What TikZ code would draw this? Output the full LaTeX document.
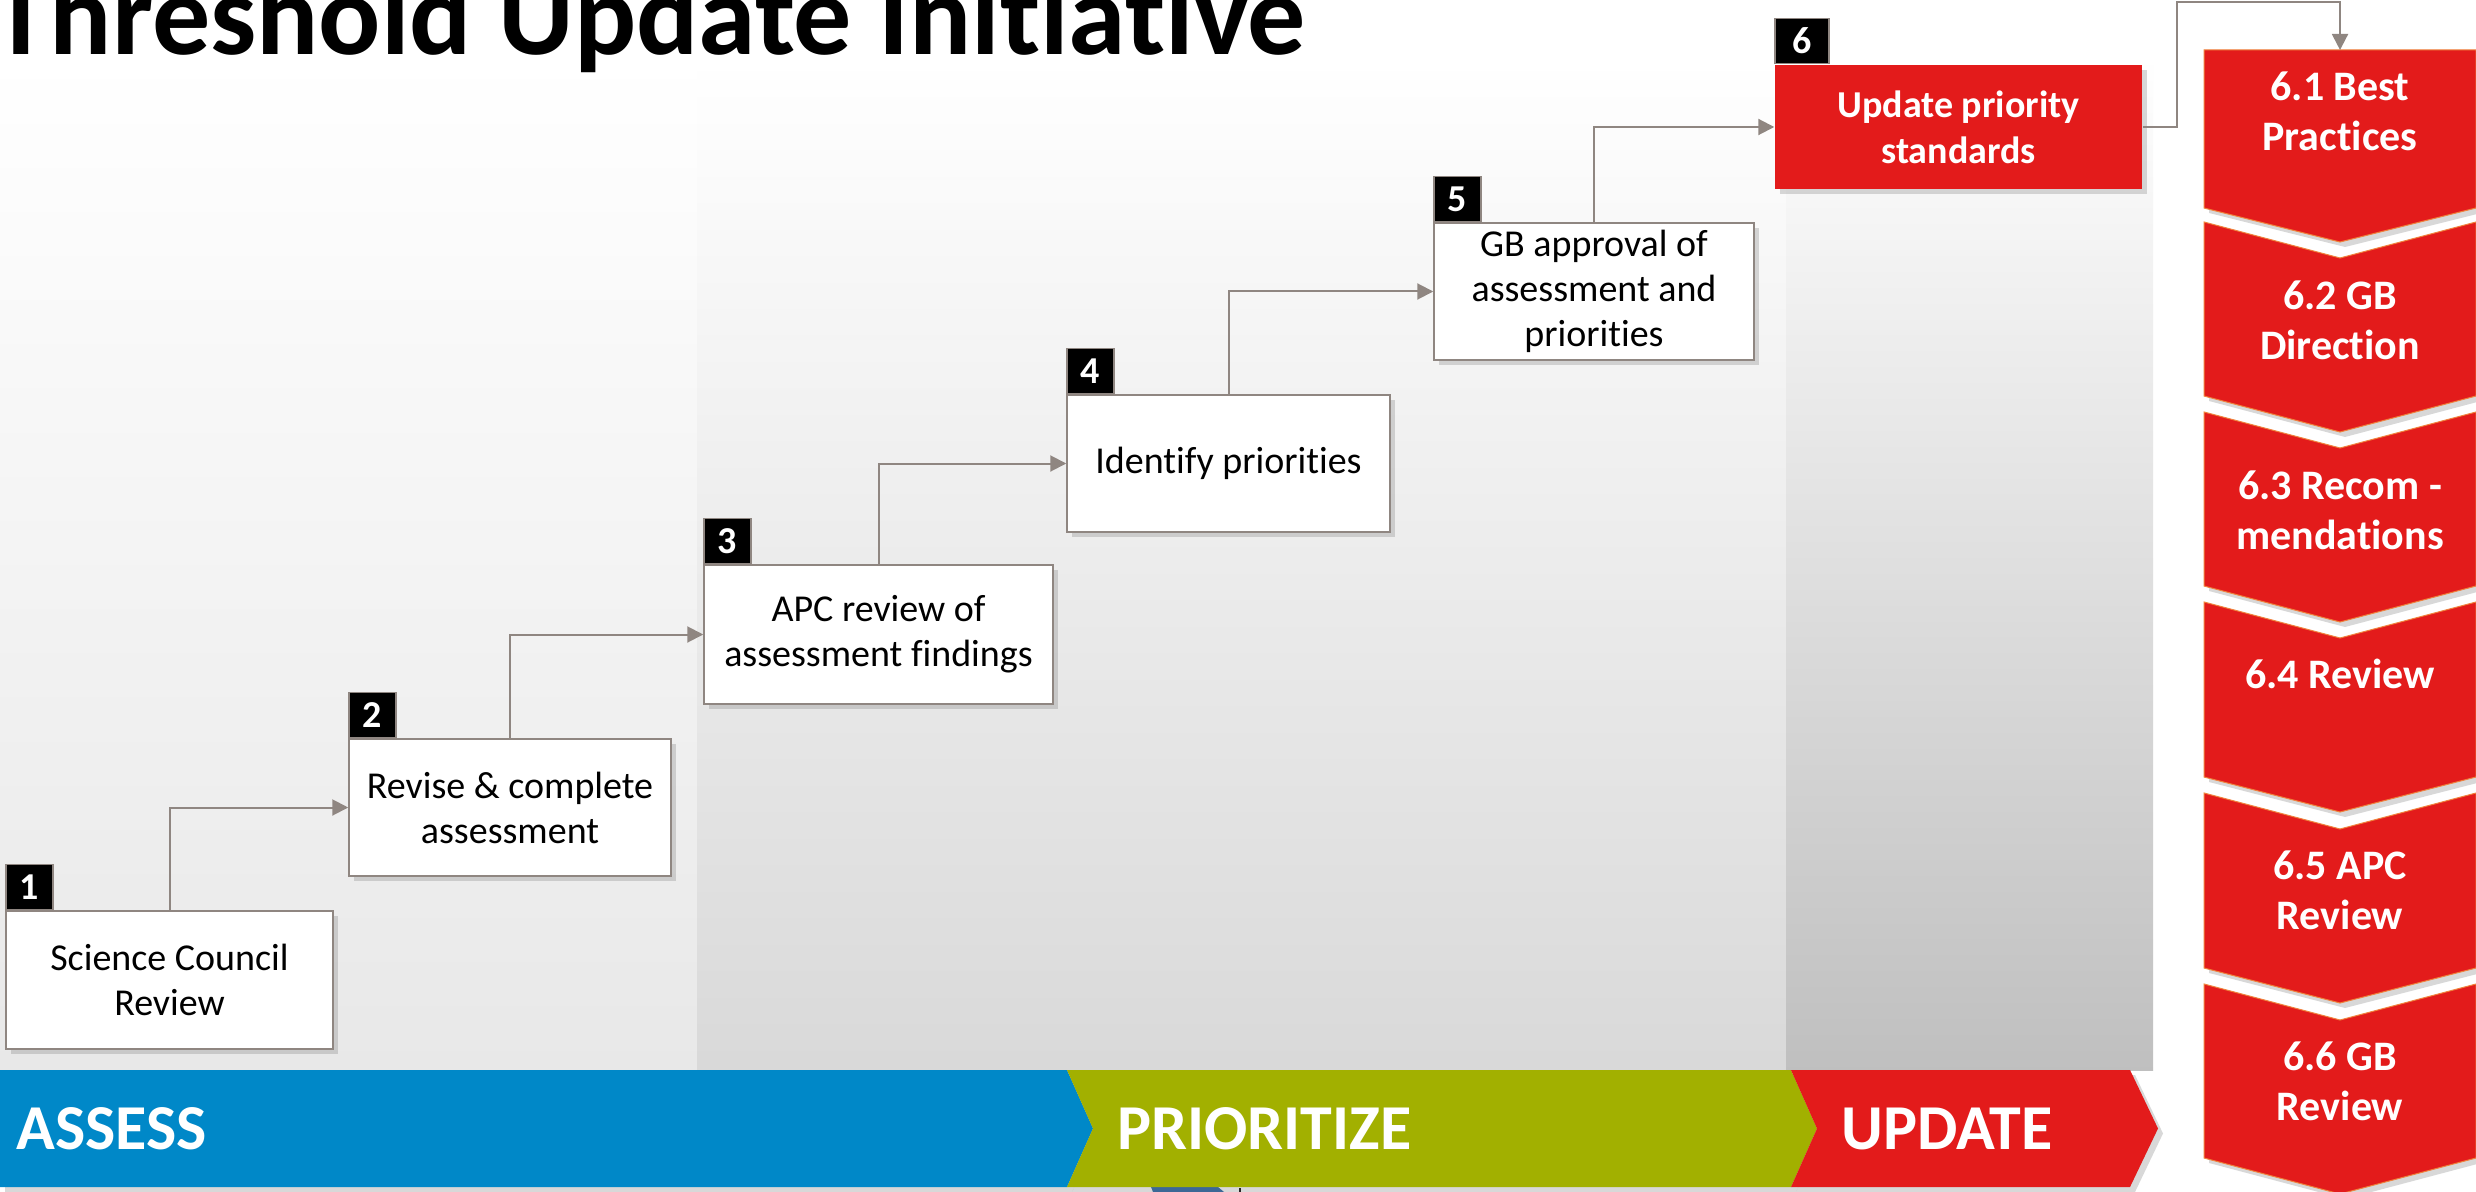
\documentclass[tikz,border=0pt]{standalone}
\usepackage{fontspec}
\setmainfont{Carlito}[Ligatures=NoCommon]
\usetikzlibrary{arrows.meta,shadows,positioning}
\definecolor{assessblue}{RGB}{0,136,200}
\definecolor{prioritygreen}{RGB}{162,176,0}
\definecolor{updatered}{RGB}{227,27,27}
\definecolor{linkgray}{RGB}{143,134,129}
\definecolor{chevronedge}{RGB}{240,130,60}
\definecolor{stubblue}{RGB}{31,95,160}

\begin{document}
\begin{tikzpicture}[
    x = 0.5pt, y = -0.5pt,
    softshadow/.style = {drop shadow={opacity=0.3, shadow xshift=2.5pt, shadow yshift=-2.5pt}},
    stepbox/.style = {draw=linkgray, line width=0.75pt, fill=white, align=center, inner sep=0pt,
        font=\fontsize{19}{22.5}\selectfont, softshadow},
    redbox/.style = {stepbox, draw=none, fill=updatered, text=white,
        font=\fontsize{19}{23}\selectfont\bfseries},
    numtag/.style = {draw=linkgray, line width=0.75pt, fill=black, text=white, inner sep=0pt,
        minimum width=23.5pt, minimum height=22.5pt, anchor=south west,
        font=\fontsize{19}{19}\selectfont\bfseries},
    flow/.style = {draw=linkgray, line width=1pt, -{Triangle[length=8pt, width=8pt]}},
    chevron/.style = {fill=updatered, draw=chevronedge, line width=0.5pt, softshadow},
    subtext/.style = {text=white, align=center, inner sep=0pt,
        font=\fontsize{21}{25}\selectfont\bfseries},
    bandtext/.style = {text=white, anchor=west, inner sep=0pt,
        font=\fontsize{32}{32}\selectfont\bfseries}]

\useasboundingbox (0,0) rectangle (2476,1192);
\clip (0,0) rectangle (2476,1192);
\fill[white] (0,0) rectangle (2476,1192);
\shade[top color=white, bottom color=black!9] (0,57) rectangle (697,1070);
\shade[top color=white, bottom color=black!15] (697,57) rectangle (1786,1070);
\shade[top color=white, bottom color=black!25] (1786,57) rectangle (2153,1070);

\node[anchor=base east, inner sep=0pt, font=\fontsize{58}{58}\selectfont\bfseries]
    (title) at (1306,55) {Threshold Update Initiative};

\node[stepbox, minimum width=163.5pt, minimum height=69pt] (b1) at (169.5,980) {Science Council\\Review};
\node[stepbox, minimum width=161pt, minimum height=68.5pt] (b2) at (510,807.5) {Revise \& complete\\assessment};
\node[stepbox, minimum width=174.5pt, minimum height=69.5pt] (b3) at (878.5,634.5) {APC review of\\assessment findings};
\node[stepbox, minimum width=161.5pt, minimum height=68.5pt] (b4) at (1228.5,463.5) {Identify priorities};
\node[stepbox, minimum width=160pt, minimum height=68.5pt] (b5) at (1594,291.5) {GB approval of\\assessment and\\priorities};
\node[redbox, minimum width=183.5pt, minimum height=62pt] (b6) at (1958.5,127) {Update priority\\standards};

\node[numtag] (t1) at (b1.north west) {1};
\node[numtag] (t2) at (b2.north west) {2};
\node[numtag] (t3) at (b3.north west) {3};
\node[numtag] (t4) at (b4.north west) {4};
\node[numtag] (t5) at (b5.north west) {5};
\node[numtag, minimum width=27pt] (t6) at (b6.north west) {6};

\draw[flow] (b1.north) |- (b2.west);
\draw[flow] (b2.north) |- (b3.west);
\draw[flow] (b3.north) |- (b4.west);
\draw[flow] (b4.north) |- (b5.west);
\draw[flow] (b5.north) |- (b6.west);

\filldraw[chevron] (2204,50) -- (2476,50) -- (2476,208) -- (2340,242) -- (2204,208) -- cycle;
\filldraw[chevron] (2204,222) -- (2340,258) -- (2476,222) -- (2476,396) -- (2340,432) -- (2204,396) -- cycle;
\filldraw[chevron] (2204,412) -- (2340,448) -- (2476,412) -- (2476,586) -- (2340,622) -- (2204,586) -- cycle;
\filldraw[chevron] (2204,602) -- (2340,638) -- (2476,602) -- (2476,777) -- (2340,812) -- (2204,777) -- cycle;
\filldraw[chevron] (2204,793) -- (2340,829) -- (2476,793) -- (2476,968) -- (2340,1003) -- (2204,968) -- cycle;
\filldraw[chevron] (2204,984) -- (2340,1020) -- (2476,984) -- (2476,1158) -- (2340,1194) -- (2204,1158) -- cycle;

\node[subtext] (s1) at (2340,111) {6.1 Best\\Practices};
\node[subtext] (s2) at (2340,320) {6.2 GB\\Direction};
\node[subtext] (s3) at (2340,510) {6.3 Recom -\\mendations};
\node[subtext] (s4) at (2340,674) {6.4 Review};
\node[subtext] (s5) at (2340,890) {6.5 APC\\Review};
\node[subtext] (s6) at (2340,1081) {6.6 GB\\Review};

\coordinate (turn) at (2177,2);
\coordinate (s1top) at (2340,50);
\draw[flow] (b6.east) -| (turn) -| (s1top);

\fill[stubblue] (1151,1187) -- (1218,1187) -- (1224,1192) -- (1153,1192) -- cycle;
\draw[line width=1pt] (1240,1188) -- (1240,1192);

\fill[assessblue, softshadow] (0,1070) -- (1067,1070) -- (1093,1128.5) -- (1067,1187) -- (0,1187) -- cycle;
\fill[prioritygreen, softshadow] (1067,1070) -- (1791,1070) -- (1817,1128.5) -- (1791,1187) -- (1067,1187) -- (1093,1128.5) -- cycle;
\fill[updatered, softshadow] (1791,1070) -- (2130,1070) -- (2158,1128.5) -- (2130,1187) -- (1791,1187) -- (1817,1128.5) -- cycle;

\node[bandtext] (assess) at (16,1129) {ASSESS};
\node[bandtext] (prioritize) at (1117,1129) {PRIORITIZE};
\node[bandtext] (update) at (1841,1129) {UPDATE};
\end{tikzpicture}
\end{document}
